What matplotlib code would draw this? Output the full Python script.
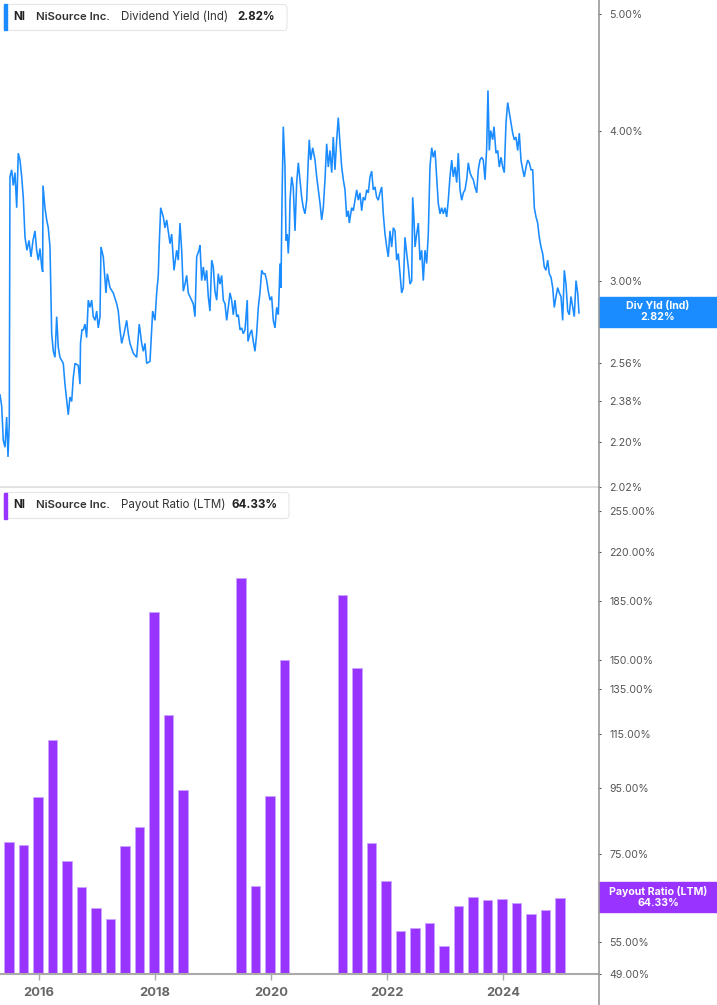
import numpy as np
import matplotlib
matplotlib.use("Agg")
import matplotlib.pyplot as plt
from matplotlib.patches import Rectangle, FancyBboxPatch
from matplotlib.lines import Line2D
from matplotlib.ticker import NullLocator, FixedLocator

plt.rcParams['font.family'] = ['Inter', 'DejaVu Sans']

# dividend yield (%), dates as decimal years
yield_t = [
    2015.328, 2015.357, 2015.384, 2015.414, 2015.443, 2015.466, 2015.488, 2015.500, 2015.529, 2015.557,
    2015.586, 2015.616, 2015.643, 2015.672, 2015.702, 2015.729, 2015.759, 2015.793, 2015.828, 2015.862,
    2015.897, 2015.931, 2015.960, 2015.988, 2016.017, 2016.047, 2016.064, 2016.069, 2016.103, 2016.133,
    2016.160, 2016.190, 2016.219, 2016.247, 2016.276, 2016.305, 2016.333, 2016.362, 2016.419, 2016.448,
    2016.505, 2016.534, 2016.564, 2016.591, 2016.621, 2016.678, 2016.707, 2016.716, 2016.741, 2016.764,
    2016.793, 2016.822, 2016.850, 2016.879, 2016.909, 2016.936, 2016.966, 2016.995, 2017.022, 2017.052,
    2017.069, 2017.109, 2017.155, 2017.178, 2017.224, 2017.281, 2017.340, 2017.367, 2017.397, 2017.426,
    2017.466, 2017.512, 2017.540, 2017.569, 2017.626, 2017.684, 2017.729, 2017.771, 2017.798, 2017.828,
    2017.857, 2017.914, 2017.960, 2018.000, 2018.029, 2018.057, 2018.074, 2018.098, 2018.143, 2018.172,
    2018.202, 2018.229, 2018.259, 2018.288, 2018.316, 2018.328, 2018.374, 2018.402, 2018.431, 2018.460,
    2018.488, 2018.517, 2018.547, 2018.574, 2018.603, 2018.633, 2018.660, 2018.690, 2018.719, 2018.759,
    2018.776, 2018.805, 2018.833, 2018.862, 2018.891, 2018.919, 2018.948, 2018.978, 2019.005, 2019.034,
    2019.064, 2019.091, 2019.121, 2019.150, 2019.178, 2019.207, 2019.236, 2019.264, 2019.293, 2019.322,
    2019.350, 2019.379, 2019.409, 2019.436, 2019.466, 2019.495, 2019.522, 2019.552, 2019.591, 2019.603,
    2019.638, 2019.667, 2019.695, 2019.724, 2019.753, 2019.781, 2019.810, 2019.840, 2019.867, 2019.897,
    2019.926, 2019.953, 2019.983, 2020.012, 2020.040, 2020.069, 2020.098, 2020.126, 2020.143, 2020.155,
    2020.172, 2020.190, 2020.212, 2020.241, 2020.259, 2020.281, 2020.298, 2020.316, 2020.328, 2020.357,
    2020.384, 2020.414, 2020.443, 2020.471, 2020.500, 2020.529, 2020.557, 2020.586, 2020.616, 2020.643,
    2020.660, 2020.684, 2020.719, 2020.759, 2020.788, 2020.816, 2020.845, 2020.874, 2020.902, 2020.931,
    2020.960, 2020.988, 2021.017, 2021.047, 2021.074, 2021.103, 2021.133, 2021.160, 2021.190, 2021.219,
    2021.247, 2021.276, 2021.305, 2021.333, 2021.350, 2021.391, 2021.419, 2021.478, 2021.505, 2021.534,
    2021.564, 2021.591, 2021.621, 2021.650, 2021.678, 2021.707, 2021.736, 2021.764, 2021.793, 2021.822,
    2021.850, 2021.879, 2021.909, 2021.936, 2021.966, 2021.995, 2022.022, 2022.052, 2022.081, 2022.109,
    2022.138, 2022.167, 2022.195, 2022.224, 2022.253, 2022.281, 2022.310, 2022.340, 2022.367, 2022.397,
    2022.426, 2022.443, 2022.466, 2022.483, 2022.512, 2022.540, 2022.569, 2022.598, 2022.626, 2022.655,
    2022.684, 2022.712, 2022.741, 2022.771, 2022.798, 2022.828, 2022.857, 2022.884, 2022.914, 2022.943,
    2022.971, 2023.000, 2023.029, 2023.057, 2023.086, 2023.116, 2023.143, 2023.172, 2023.202, 2023.229,
    2023.259, 2023.288, 2023.316, 2023.345, 2023.374, 2023.402, 2023.431, 2023.460, 2023.488, 2023.517,
    2023.547, 2023.574, 2023.603, 2023.633, 2023.660, 2023.690, 2023.719, 2023.741, 2023.764, 2023.788,
    2023.822, 2023.845, 2023.879, 2023.909, 2023.936, 2023.966, 2023.995, 2024.022, 2024.052, 2024.081,
    2024.109, 2024.138, 2024.167, 2024.195, 2024.224, 2024.253, 2024.281, 2024.310, 2024.340, 2024.367,
    2024.397, 2024.426, 2024.453, 2024.483, 2024.512, 2024.540, 2024.569, 2024.598, 2024.626, 2024.655,
    2024.684, 2024.712, 2024.741, 2024.771, 2024.798, 2024.828, 2024.857, 2024.884, 2024.914, 2024.943,
    2024.971, 2025.000, 2025.029, 2025.057, 2025.086, 2025.116, 2025.143, 2025.172, 2025.202, 2025.229,
    2025.259, 2025.288, 2025.310,
]
yield_v = [
    2.41, 2.36, 2.21, 2.18, 2.31, 2.14, 2.28, 3.66, 3.71, 3.60,
    3.69, 3.45, 3.83, 3.78, 3.66, 3.52, 3.26, 3.18, 3.24, 3.14,
    3.24, 3.30, 3.18, 3.12, 3.19, 3.08, 3.05, 3.60, 3.45, 3.37,
    3.32, 3.20, 2.71, 2.62, 2.59, 2.80, 2.64, 2.59, 2.56, 2.46,
    2.32, 2.40, 2.38, 2.49, 2.56, 2.55, 2.46, 2.66, 2.73, 2.73,
    2.76, 2.69, 2.89, 2.85, 2.89, 2.80, 2.78, 2.83, 2.74, 2.80,
    3.20, 3.14, 2.93, 3.04, 2.96, 2.93, 2.87, 2.83, 2.73, 2.66,
    2.71, 2.78, 2.71, 2.66, 2.61, 2.59, 2.76, 2.66, 2.62, 2.66,
    2.56, 2.57, 2.83, 2.78, 2.93, 3.03, 3.22, 3.45, 3.39, 3.32,
    3.37, 3.30, 3.22, 3.28, 3.12, 3.06, 3.18, 3.12, 3.35, 3.18,
    2.94, 2.98, 3.03, 2.93, 2.91, 2.89, 2.87, 2.80, 3.14, 3.18,
    3.21, 3.00, 3.08, 3.00, 3.06, 2.91, 2.83, 3.12, 3.08, 2.94,
    2.89, 3.04, 2.98, 3.03, 2.89, 2.87, 2.78, 2.85, 2.93, 2.89,
    2.81, 2.89, 2.80, 2.81, 2.73, 2.74, 2.71, 2.73, 2.89, 2.67,
    2.71, 2.73, 2.67, 2.62, 2.71, 2.85, 2.93, 3.06, 3.04, 3.04,
    3.00, 2.94, 2.89, 2.91, 2.78, 2.74, 2.85, 2.81, 2.96, 3.10,
    2.96, 3.50, 4.03, 3.73, 3.24, 3.28, 3.16, 3.28, 3.50, 3.66,
    3.59, 3.30, 3.62, 3.76, 3.64, 3.52, 3.45, 3.41, 3.50, 3.78,
    3.93, 3.78, 3.87, 3.78, 3.66, 3.57, 3.48, 3.37, 3.45, 3.64,
    3.90, 3.73, 3.85, 3.69, 3.95, 3.71, 3.93, 4.10, 3.90, 3.73,
    3.64, 3.57, 3.39, 3.43, 3.35, 3.45, 3.43, 3.57, 3.50, 3.55,
    3.43, 3.52, 3.50, 3.57, 3.55, 3.66, 3.70, 3.57, 3.59, 3.52,
    3.50, 3.55, 3.59, 3.41, 3.28, 3.20, 3.14, 3.30, 3.20, 3.32,
    3.30, 3.12, 3.16, 3.04, 2.93, 2.96, 3.26, 3.16, 3.08, 2.98,
    3.00, 3.52, 3.37, 3.20, 3.28, 3.35, 3.12, 3.18, 3.00, 3.18,
    3.10, 3.28, 3.73, 3.87, 3.80, 3.85, 3.66, 3.48, 3.41, 3.45,
    3.41, 3.45, 3.39, 3.50, 3.66, 3.78, 3.66, 3.73, 3.62, 3.83,
    3.57, 3.50, 3.55, 3.57, 3.64, 3.76, 3.69, 3.66, 3.64, 3.59,
    3.55, 3.71, 3.78, 3.80, 3.78, 3.64, 3.87, 4.32, 3.85, 4.00,
    3.93, 4.03, 3.83, 3.85, 3.73, 3.80, 3.73, 3.69, 4.06, 4.22,
    4.14, 4.06, 3.98, 3.93, 3.95, 3.85, 3.98, 3.78, 3.71, 3.66,
    3.73, 3.78, 3.76, 3.71, 3.71, 3.45, 3.39, 3.35, 3.26, 3.20,
    3.16, 3.08, 3.06, 3.12, 3.04, 3.02, 2.96, 2.85, 2.91, 2.96,
    2.93, 2.91, 2.78, 3.06, 2.98, 2.83, 2.81, 2.91, 2.85, 2.80,
    3.00, 2.93, 2.82,
]

# payout ratio LTM (%), quarter ends, nan = not reported
payout_q = [
    2015.50, 2015.75, 2016.00, 2016.25, 2016.50, 2016.75, 2017.00, 2017.25, 2017.50, 2017.75,
    2018.00, 2018.25, 2018.50, 2018.75, 2019.00, 2019.25, 2019.50, 2019.75, 2020.00, 2020.25,
    2020.50, 2020.75, 2021.00, 2021.25, 2021.50, 2021.75, 2022.00, 2022.25, 2022.50, 2022.75,
    2023.00, 2023.25, 2023.50, 2023.75, 2024.00, 2024.25, 2024.50, 2024.75, 2025.00,
]
payout_v = [
    78.5, 77.6, 91.9, 112.6, 73.3, 66.7, 61.9, 59.6, 77.4, 82.8,
    178.1, 123.1, 94.4, np.nan, np.nan, np.nan, 200.8, 67.1, 92.5, 149.7,
    np.nan, np.nan, np.nan, 188.8, 145.4, 78.2, 68.3, 57.2, 57.8, 58.8,
    54.2, 62.5, 64.4, 63.8, 64.0, 63.2, 60.7, 61.5, 64.33,
]

year_ticks = [2016, 2018, 2020, 2022, 2024]
yield_ticks = [2.02, 2.20, 2.38, 2.56, 3.00, 4.00, 5.00]
payout_ticks = [49, 55, 75, 95, 115, 135, 150, 185, 220, 255]

BLUE = '#1a8cff'
PURPLE = '#9933ff'
W, H = 717, 1005


def fx(x):
    return x / W


def fy(y):
    return 1 - y / H


fig = plt.figure(figsize=(W / 100, H / 100), dpi=100)
fig.patch.set_facecolor('white')

ax1 = fig.add_axes([0, fy(487), fx(598), 487 / H])
ax2 = fig.add_axes([0, fy(974), fx(598), (974 - 490) / H])

x0, x1 = 2015.328, 2025.638

# top: dividend yield line
ax1.plot(yield_t, yield_v, color=BLUE, lw=1.15, solid_joinstyle='miter')
ax1.set_yscale('log')
ax1.set_ylim(2.02, 5.137)
ax1.set_xlim(x0, x1)

# bottom: payout ratio bars
pv = np.array(payout_v)
pq = np.array(payout_q)
ok = ~np.isnan(pv)
ax2.bar(pq[ok] - 0.017, pv[ok] - 49, bottom=49, width=0.172, color=PURPLE,
        edgecolor='#c9a3ff', linewidth=0.6)
ax2.set_yscale('log')
ax2.set_ylim(49, 274.5)
ax2.set_xlim(x0, x1)

for ax, ticks in ((ax1, yield_ticks), (ax2, payout_ticks)):
    ax.set_facecolor('none')
    for s in ('top', 'left', 'right'):
        ax.spines[s].set_visible(False)
    ax.yaxis.tick_right()
    ax.yaxis.set_major_locator(FixedLocator(ticks))
    ax.yaxis.set_minor_locator(NullLocator())
    ax.set_yticklabels(['%.2f%%' % t for t in ticks])
    ax.tick_params(axis='y', which='major', length=2, width=0.8, color='#555555',
                   pad=6, labelsize=7.6, labelcolor='#555555')

ax1.spines['bottom'].set_color('#dddddd')
ax1.spines['bottom'].set_linewidth(1.2)
ax1.set_xticks([])

ax2.spines['bottom'].set_color('#aaaaaa')
ax2.spines['bottom'].set_linewidth(1.5)
ax2.set_xticks(year_ticks)
ax2.set_xticklabels([str(y) for y in year_ticks], fontweight='bold')
ax2.tick_params(axis='x', length=4, width=1, color='#aaaaaa', pad=5,
                labelsize=9.3, labelcolor='#666666')

# right spine across the whole figure
fig.add_artist(Line2D([fx(598.5), fx(598.5)], [0, 1], color='#999999', lw=1.2,
                      transform=fig.transFigure))

# value boxes on the right
fig.add_artist(Rectangle((fx(599), fy(327)), fx(118), 30 / H, color=BLUE,
                         transform=fig.transFigure))
fig.text(fx(658), fy(306), 'Div Yld (Ind)', color='white', fontsize=7.6,
         fontweight='bold', ha='center', va='center')
fig.text(fx(658), fy(317), '2.82%', color='white', fontsize=7.6,
         fontweight='bold', ha='center', va='center')

fig.add_artist(Rectangle((fx(599), fy(912)), fx(118), 30 / H, color=PURPLE,
                         transform=fig.transFigure))
fig.text(fx(658), fy(891.5), 'Payout Ratio (LTM)', color='white', fontsize=7.6,
         fontweight='bold', ha='center', va='center')
fig.text(fx(658), fy(902.5), '64.33%', color='white', fontsize=7.6,
         fontweight='bold', ha='center', va='center')


def legend_box(top, right, color, label, value, value_x):
    box = FancyBboxPatch((fx(4), fy(top + 26)), fx(right - 4), 26 / H,
                         boxstyle='round,pad=0,rounding_size=0.004',
                         facecolor='white', edgecolor='#e6e6e6', lw=0.8,
                         transform=fig.transFigure)
    fig.add_artist(box)
    fig.add_artist(Rectangle((fx(4), fy(top + 26)), fx(3), 26 / H, color=color,
                             transform=fig.transFigure))
    yc = fy(top + 12.5)
    fig.text(fx(13), yc, 'NI', fontsize=8.3, fontweight='bold', color='#222222', va='center')
    fig.text(fx(36), yc, 'NiSource Inc.', fontsize=8.2, fontweight='semibold',
             color='#333333', va='center')
    fig.text(fx(121), yc, label, fontsize=8.3, color='#333333', va='center')
    fig.text(fx(value_x), yc, value, fontsize=8.3, fontweight='bold',
             color='#222222', va='center')


legend_box(4.5, 287, BLUE, 'Dividend Yield (Ind)', '2.82%', 237)
legend_box(492.5, 289, PURPLE, 'Payout Ratio (LTM)', '64.33%', 232)

fig.savefig('out.png', dpi=100, facecolor='white')
